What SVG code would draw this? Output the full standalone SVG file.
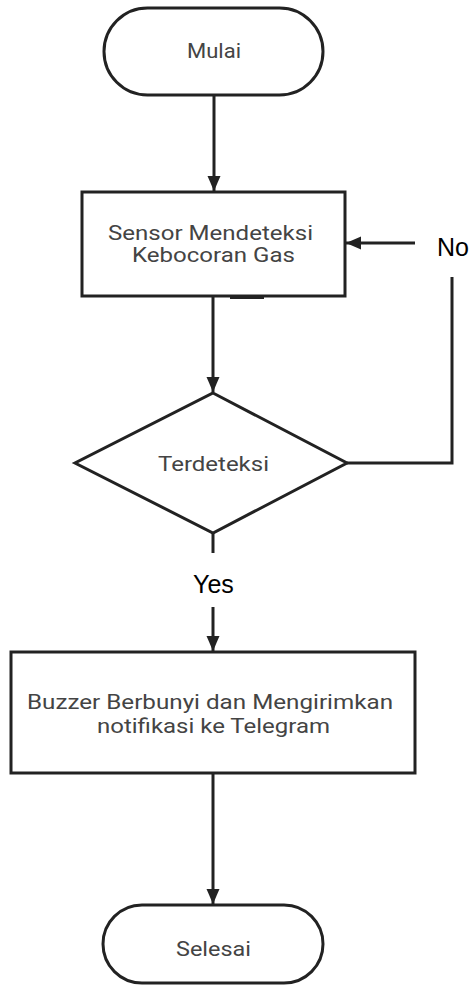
<svg xmlns="http://www.w3.org/2000/svg" width="473" height="993" viewBox="0 0 473 993">
<style>
.shape{fill:#fff;stroke:#222;stroke-width:3}
.conn{fill:none;stroke:#222;stroke-width:3}
.t{font-family:Roboto,"Liberation Sans",sans-serif;font-size:19.5px;fill:#444}
.lbl{font-family:"Liberation Sans",Arial,sans-serif;font-size:25px;fill:#000}
</style>
<defs>
<marker id="ah" markerUnits="userSpaceOnUse" markerWidth="16" markerHeight="16" viewBox="0 0 16 16" refX="15" refY="8" orient="auto">
<path d="M0,1.5 L15,8 L0,14.5 Z" fill="#222"/>
</marker>
</defs>
<g id="connectors">
<line class="conn" x1="214" y1="95" x2="214" y2="191" marker-end="url(#ah)"/>
<line class="conn" x1="213" y1="297" x2="213" y2="392" marker-end="url(#ah)"/>
<line class="conn" x1="213" y1="533" x2="213" y2="553"/>
<line class="conn" x1="213" y1="607" x2="213" y2="651" marker-end="url(#ah)"/>
<line class="conn" x1="213" y1="773" x2="213" y2="904" marker-end="url(#ah)"/>
<polyline class="conn" points="347,463 452,463 452,277"/>
<line class="conn" x1="415" y1="243" x2="346" y2="243" marker-end="url(#ah)"/>
<line x1="230" y1="297.5" x2="264" y2="297.5" stroke="#222" stroke-width="3"/>
<text class="lbl" x="437" y="256">No</text>
<text class="lbl" x="193" y="593">Yes</text>
</g>
<g id="mulai">
<rect class="shape" x="104" y="8" width="219" height="87" rx="43.5"/>
<text class="t" x="187" y="58" textLength="54" lengthAdjust="spacingAndGlyphs">Mulai</text>
</g>
<g id="sensor">
<rect class="shape" x="82" y="192" width="263" height="104"/>
<text class="t" x="108" y="240" textLength="205" lengthAdjust="spacingAndGlyphs">Sensor Mendeteksi</text>
<text class="t" x="132" y="262" textLength="163" lengthAdjust="spacingAndGlyphs">Kebocoran Gas</text>
</g>
<g id="terdeteksi">
<polygon class="shape" points="213,393 347,463 213,533 75,463"/>
<text class="t" x="158" y="471" textLength="111" lengthAdjust="spacingAndGlyphs">Terdeteksi</text>
</g>
<g id="buzzer">
<rect class="shape" x="11" y="652" width="404" height="121"/>
<text class="t" x="27" y="709" textLength="366" lengthAdjust="spacingAndGlyphs">Buzzer Berbunyi dan Mengirimkan</text>
<text class="t" x="97" y="733" textLength="233" lengthAdjust="spacingAndGlyphs">notifikasi ke Telegram</text>
</g>
<g id="selesai">
<rect class="shape" x="103" y="905" width="220" height="78" rx="39"/>
<text class="t" x="176" y="956" textLength="75" lengthAdjust="spacingAndGlyphs">Selesai</text>
</g>
</svg>
